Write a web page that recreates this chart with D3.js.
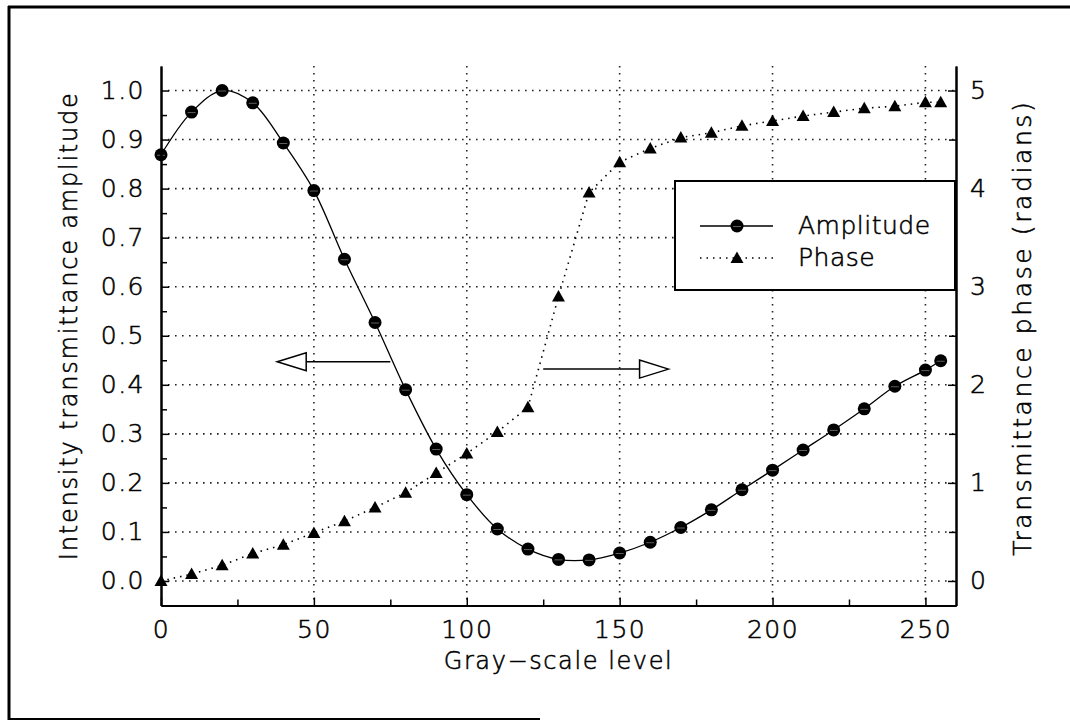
<!DOCTYPE html>
<html>
<head>
<meta charset="utf-8">
<script src="https://cdn.jsdelivr.net/npm/d3@7"></script>
<style>
  html, body { margin: 0; padding: 0; background: #fff; }
  svg { display: block; }
  text { font-family: "DejaVu Sans", "Liberation Sans", sans-serif; fill: #000; font-weight: 300; stroke: #000; stroke-width: 0.55px; }
</style>
</head>
<body>
<svg id="chart" width="1070" height="721"></svg>
<script>
// ---------------- data ----------------
const grayLevels = [0,10,20,30,40,50,60,70,80,90,100,110,120,130,140,150,160,170,180,190,200,210,220,230,240,250,255];
const amplitude  = [0.869,0.956,1.0,0.975,0.893,0.796,0.656,0.527,0.39,0.269,0.176,0.106,0.065,0.044,0.043,0.057,0.079,0.109,0.145,0.186,0.226,0.267,0.308,0.351,0.397,0.43,0.449];
const phase      = [0.0,0.07,0.16,0.28,0.37,0.49,0.61,0.75,0.90,1.10,1.30,1.52,1.77,2.90,3.96,4.27,4.41,4.52,4.57,4.64,4.69,4.74,4.78,4.82,4.84,4.88,4.88];

const xTicks      = [0,50,100,150,200,250];
const xMinorTicks = [25,75,125,175,225];
const yLeftTicks  = [0,0.1,0.2,0.3,0.4,0.5,0.6,0.7,0.8,0.9,1.0];
const yLeftMinor  = [0.05,0.15,0.25,0.35,0.45,0.55,0.65,0.75,0.85,0.95];
const yRightTicks = [0,1,2,3,4,5];
const yRightMinor = [0.5,1.5,2.5,3.5,4.5];

const seriesNames = ["Amplitude","Phase"];
const xTitle = "Gray\u2212scale level";
const yLeftTitle = "Intensity transmittance amplitude";
const yRightTitle = "Transmittance phase (radians)";

// annotation arrows: [from gray level, to gray level, value on own axis]
const arrowAmp   = [75, 38, 0.447];   // points to left axis
const arrowPhase = [125, 166, 2.16];  // points to right axis

// ---------------- layout ----------------
const svg = d3.select("#chart");
const X0 = 161, X1 = 956, Y0 = 605.5, Y1 = 66;

const x  = d3.scaleLinear().domain([0,260]).range([X0,X1]);
const yL = d3.scaleLinear().domain([-0.05,1.05]).range([Y0,Y1]);
const yR = d3.scaleLinear().domain([-0.25,5.25]).range([Y0,Y1]);

// outer frame (partial, as scanned)
svg.append("line").attr("x1",8).attr("x2",1070).attr("y1",7).attr("y2",7).attr("stroke","#000").attr("stroke-width",3);
svg.append("line").attr("x1",9).attr("x2",9).attr("y1",6).attr("y2",720).attr("stroke","#000").attr("stroke-width",3);
svg.append("line").attr("x1",8).attr("x2",540).attr("y1",719).attr("y2",719).attr("stroke","#000").attr("stroke-width",2);

// grid
const grid = svg.append("g").attr("stroke","#222").attr("stroke-width",1.6).attr("stroke-dasharray","1.6,5.4");
grid.selectAll(".gh").data(yLeftTicks).join("line")
  .attr("x1",X0).attr("x2",X1).attr("y1",d=>yL(d)).attr("y2",d=>yL(d));
grid.selectAll(".gv").data(xTicks.filter(d=>d>0)).join("line")
  .attr("x1",d=>x(d)).attr("x2",d=>x(d)).attr("y1",Y1).attr("y2",Y0);

// phase dotted line
svg.append("path")
  .datum(grayLevels.map((g,i)=>[g,phase[i]]))
  .attr("fill","none").attr("stroke","#000").attr("stroke-width",1.6).attr("stroke-dasharray","1.5,5")
  .attr("d", d3.line().x(d=>x(d[0])).y(d=>yR(d[1])));

// amplitude solid line
svg.append("path")
  .datum(grayLevels.map((g,i)=>[g,amplitude[i]]))
  .attr("fill","none").attr("stroke","#000").attr("stroke-width",1.3)
  .attr("d", d3.line().curve(d3.curveCatmullRom.alpha(0.5)).x(d=>x(d[0])).y(d=>yL(d[1])));

// markers
const triPath = "M0,-6.5L6.5,5L-6.5,5Z";
svg.append("g").selectAll("path").data(grayLevels.map((g,i)=>[g,phase[i]])).join("path")
  .attr("d", triPath).attr("fill","#000")
  .attr("transform", d=>`translate(${x(d[0])},${yR(d[1])})`);

const circ = svg.append("g").selectAll("g").data(grayLevels.map((g,i)=>[g,amplitude[i]])).join("g")
  .attr("transform", d=>`translate(${x(d[0])},${yL(d[1])})`);
circ.append("circle").attr("r",6.5).attr("fill","#000");
circ.append("line").attr("x1",-4).attr("x2",4).attr("y1",0.5).attr("y2",0.5).attr("stroke","#777").attr("stroke-width",0.8);

// arrows
function arrow(xa, xb, yy) {
  const g = svg.append("g");
  const dir = Math.sign(xb - xa);
  const headLen = 29, headH = 9;
  const baseX = xb - dir*headLen;
  g.append("line").attr("x1",xa).attr("x2",baseX).attr("y1",yy).attr("y2",yy).attr("stroke","#000").attr("stroke-width",1.5);
  g.append("path").attr("d",`M${xb},${yy}L${baseX},${yy-headH}L${baseX},${yy+headH}Z`)
    .attr("fill","#fff").attr("stroke","#000").attr("stroke-width",1.5);
}
arrow(x(arrowAmp[0]), x(arrowAmp[1]), yL(arrowAmp[2]));
arrow(x(arrowPhase[0]), x(arrowPhase[1]), yR(arrowPhase[2]));

// axes
function styleAxis(g){
  g.selectAll(".domain").attr("stroke","#000").attr("stroke-width",2);
  g.selectAll(".tick line").attr("stroke","#000").attr("stroke-width",1.5);
  g.selectAll("text").attr("font-size",25).attr("letter-spacing",1.5)
    .attr("font-family","DejaVu Sans, sans-serif").attr("font-weight",300)
    .attr("fill","#000").attr("stroke","#000").attr("stroke-width",0.55);
}
svg.append("g").attr("transform",`translate(${X0},0)`)
  .call(d3.axisLeft(yL).tickValues(yLeftTicks).tickFormat(d3.format(".1f")).tickSize(-8).tickSizeOuter(0).tickPadding(16))
  .call(styleAxis);
svg.append("g").attr("transform",`translate(${X0},0)`)
  .call(d3.axisLeft(yL).tickValues(yLeftMinor).tickFormat("").tickSize(-6).tickSizeOuter(0))
  .call(styleAxis);
svg.append("g").attr("transform",`translate(${X1},0)`)
  .call(d3.axisRight(yR).tickValues(yRightTicks).tickFormat(d3.format("d")).tickSize(-8).tickSizeOuter(0).tickPadding(14))
  .call(styleAxis);
svg.append("g").attr("transform",`translate(${X1},0)`)
  .call(d3.axisRight(yR).tickValues(yRightMinor).tickFormat("").tickSize(-7).tickSizeOuter(0))
  .call(styleAxis);
svg.append("g").attr("transform",`translate(0,${Y0})`)
  .call(d3.axisBottom(x).tickValues(xTicks).tickFormat(d3.format("d")).tickSize(-8).tickSizeOuter(0).tickPadding(15))
  .call(styleAxis);
svg.append("g").attr("transform",`translate(0,${Y0})`)
  .call(d3.axisBottom(x).tickValues(xMinorTicks).tickFormat("").tickSize(-6).tickSizeOuter(0))
  .call(styleAxis);

// axis titles
svg.append("text").attr("x",(X0+X1)/2).attr("y",669).attr("text-anchor","middle")
  .attr("font-size",24).attr("letter-spacing",1.6).text(xTitle);
svg.append("text").attr("transform",`translate(77,${(Y0+Y1)/2 - 10}) rotate(-90)`).attr("text-anchor","middle")
  .attr("font-size",24).attr("letter-spacing",1.8).text(yLeftTitle);
svg.append("text").attr("transform",`translate(1031,${(Y0+Y1)/2 - 8}) rotate(-90)`).attr("text-anchor","middle")
  .attr("font-size",25).attr("letter-spacing",2.6).text(yRightTitle);

// legend
const lg = svg.append("g");
lg.append("rect").attr("x",675).attr("y",181).attr("width",280).attr("height",109)
  .attr("fill","#fff").attr("stroke","#000").attr("stroke-width",2);
lg.append("line").attr("x1",700).attr("x2",773).attr("y1",226).attr("y2",226).attr("stroke","#000").attr("stroke-width",1.5);
lg.append("circle").attr("cx",737).attr("cy",226).attr("r",6.5).attr("fill","#000");
lg.append("line").attr("x1",733).attr("x2",741).attr("y1",226.5).attr("y2",226.5).attr("stroke","#777").attr("stroke-width",0.8);
lg.append("line").attr("x1",700).attr("x2",773).attr("y1",258).attr("y2",258).attr("stroke","#000").attr("stroke-width",1.5).attr("stroke-dasharray","1.5,5");
lg.append("path").attr("d",triPath).attr("transform","translate(737,258)").attr("fill","#000");
lg.selectAll(".lt").data(seriesNames).join("text")
  .attr("x",798).attr("y",(d,i)=>234+i*32).attr("font-size",25).attr("letter-spacing",0.5).text(d=>d);
</script>
</body>
</html>
